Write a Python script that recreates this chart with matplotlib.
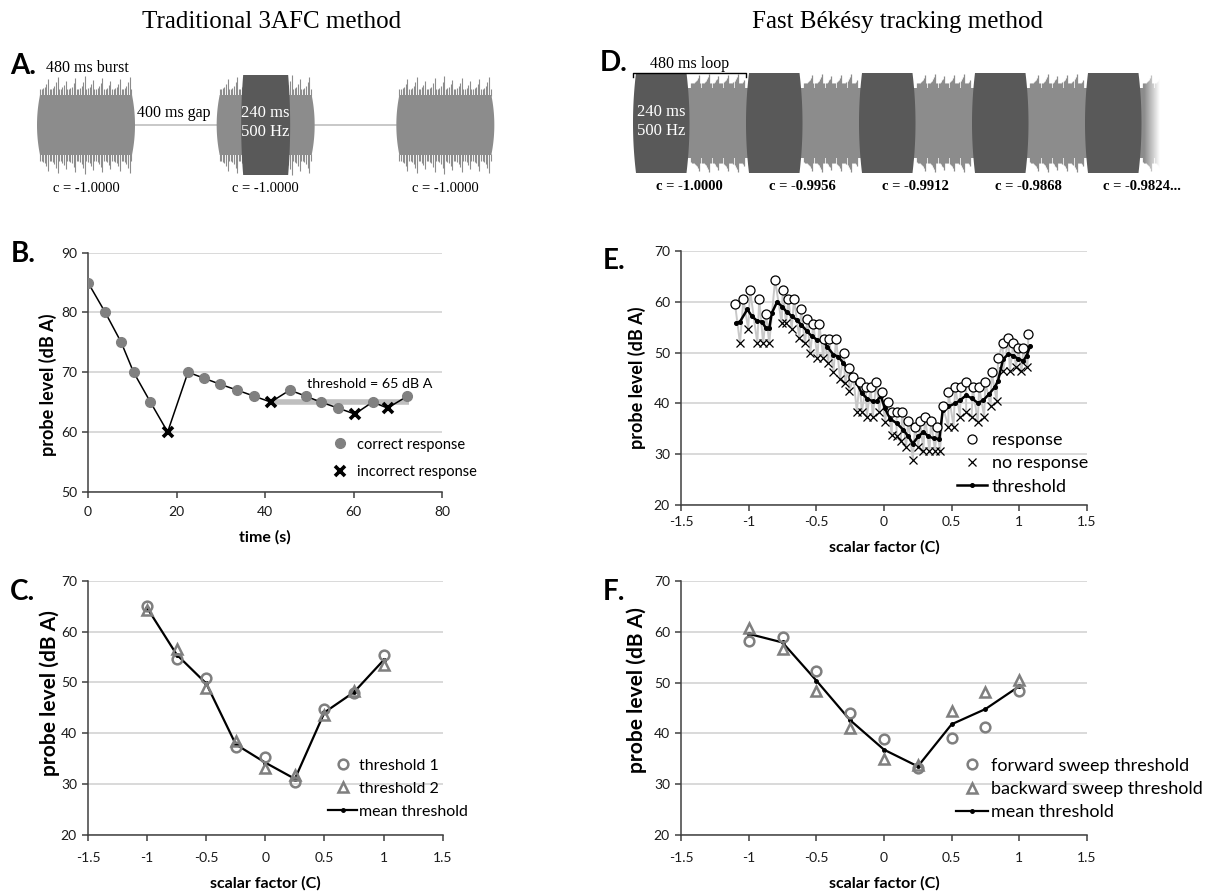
import numpy as np
import matplotlib
matplotlib.use('Agg')
import matplotlib.pyplot as plt
from matplotlib.patches import Polygon, Rectangle
from matplotlib.lines import Line2D

plt.rcParams['font.family'] = ['Lato', 'DejaVu Sans']
plt.rcParams['axes.unicode_minus'] = False

# ---------------- data ----------------
# B: 3AFC staircase
time_b = [0, 3.9, 7.5, 10.3, 14.1, 18.0, 22.6, 26.2, 29.8, 33.7, 37.5, 41.3,
          45.6, 49.2, 52.6, 56.5, 60.3, 64.3, 67.7, 72.2]
level_b = [85, 80, 75, 70, 65, 60, 70, 69, 68, 67, 66, 65, 67, 66, 65, 64, 63, 65, 64, 66]
correct_b = [1, 1, 1, 1, 1, 0, 1, 1, 1, 1, 1, 0, 1, 1, 1, 1, 0, 1, 0, 1]
threshold_b = 65
threshold_span_b = [42, 72.5]

# C: 3AFC thresholds vs scalar factor
scalar = [-1, -0.75, -0.5, -0.25, 0, 0.25, 0.5, 0.75, 1]
thr1_c = [65.1, 54.6, 50.8, 37.2, 35.3, 30.3, 44.7, 47.9, 55.4]
thr2_c = [64.3, 56.5, 48.9, 38.5, 33.2, 31.7, 43.5, 48.3, 53.5]
mean_c = [64.7, 55.5, 49.8, 37.8, 34.2, 31.0, 44.1, 48.1, 54.4]

# E: Bekesy tracking
resp_x = [-1.101, -1.039, -0.990, -0.922, -0.872, -0.805, -0.748, -0.706, -0.665, -0.613,
          -0.566, -0.522, -0.478, -0.441, -0.406, -0.354, -0.297, -0.261, -0.226, -0.180,
          -0.135, -0.099, -0.056, -0.017, 0.027, 0.061, 0.093, 0.135, 0.179, 0.229,
          0.267, 0.303, 0.348, 0.390, 0.434, 0.476, 0.526, 0.567, 0.607, 0.655,
          0.703, 0.749, 0.796, 0.843, 0.877, 0.919, 0.956, 0.993, 1.030, 1.067]
resp_y = [59.6, 60.5, 62.4, 60.5, 57.6, 64.3, 62.4, 60.5, 60.5, 58.5,
          56.6, 55.6, 55.6, 52.7, 52.7, 52.7, 49.9, 47.0, 45.1, 44.2,
          43.2, 43.2, 44.2, 42.2, 40.3, 38.4, 38.4, 38.4, 36.5, 35.4,
          36.5, 37.4, 36.5, 35.4, 39.4, 42.2, 43.2, 43.2, 44.2, 43.2,
          43.2, 44.2, 46.1, 48.9, 51.8, 52.8, 51.8, 50.9, 50.9, 53.7]
noresp_x = [-1.064, -1.003, -0.936, -0.893, -0.848, -0.756, -0.724, -0.682, -0.625, -0.584,
            -0.545, -0.492, -0.448, -0.411, -0.374, -0.325, -0.287, -0.256, -0.201, -0.164,
            -0.127, -0.083, -0.035, 0.008, 0.057, 0.093, 0.124, 0.163, 0.213, 0.254,
            0.291, 0.336, 0.377, 0.414, 0.476, 0.514, 0.562, 0.607, 0.648, 0.693,
            0.740, 0.788, 0.833, 0.880, 0.930, 0.975, 1.016, 1.060]
noresp_y = [51.8, 54.6, 51.8, 51.8, 51.8, 55.8, 55.8, 54.6, 52.8, 51.8,
            49.9, 48.9, 48.9, 47.9, 46.1, 44.9, 44.0, 42.5, 38.4, 38.4,
            37.4, 37.4, 38.4, 36.4, 33.8, 33.5, 32.5, 31.5, 28.9, 31.5,
            30.6, 30.6, 30.6, 30.6, 35.4, 35.4, 37.4, 38.4, 37.4, 36.4,
            37.4, 39.4, 40.4, 46.3, 46.3, 47.1, 46.3, 47.1]
thr_x = [-1.093, -1.064, -1.010, -0.977, -0.936, -0.903, -0.872, -0.848, -0.830, -0.790,
         -0.751, -0.719, -0.682, -0.644, -0.613, -0.571, -0.534, -0.492, -0.448, -0.418,
         -0.374, -0.337, -0.300, -0.271, -0.239, -0.202, -0.164, -0.122, -0.083, -0.054,
         -0.024, 0.007, 0.045, 0.093, 0.143, 0.179, 0.213, 0.254, 0.291, 0.328,
         0.370, 0.409, 0.434, 0.476, 0.526, 0.562, 0.607, 0.648, 0.693, 0.733,
         0.778, 0.819, 0.843, 0.880, 0.919, 0.956, 0.993, 1.030, 1.054, 1.080]
thr_y = [55.8, 56.1, 58.5, 57.2, 56.2, 56.1, 54.8, 54.8, 57.7, 60.0,
         59.0, 58.0, 57.2, 56.4, 55.5, 54.3, 53.2, 52.5, 52.3, 51.1,
         49.6, 49.2, 47.9, 46.9, 45.6, 44.0, 42.0, 40.9, 40.4, 40.4,
         41.5, 39.0, 37.0, 36.1, 34.8, 33.5, 32.1, 33.5, 34.4, 33.5,
         33.1, 33.0, 38.7, 39.4, 40.0, 40.6, 41.6, 41.0, 40.1, 40.6,
         41.9, 43.2, 44.5, 48.7, 49.7, 49.4, 48.7, 48.4, 49.4, 51.3]

# F: Bekesy thresholds vs scalar factor
fwd_f = [58.2, 59.0, 52.3, 44.0, 38.8, 33.2, 39.0, 41.3, 48.4]
bwd_f = [60.8, 56.6, 48.4, 41.1, 34.9, 33.7, 44.4, 48.1, 50.5]
mean_f = [59.6, 57.9, 50.4, 42.6, 36.8, 33.5, 41.8, 44.8, 49.3]

scalar_ticks = [-1.5, -1, -0.5, 0, 0.5, 1, 1.5]
scalar_labels = ['-1.5', '-1', '-0.5', '0', '0.5', '1', '1.5']

# schematic timing (ms)
burst_ms = 480
gap_ms = 400
probe_ms = 240
a_bursts = [0, 880, 1760]
d_loops = [0, 480, 960, 1440, 1920]
a_labels = ['c = -1.0000', 'c = -1.0000', 'c = -1.0000']
d_labels = ['c = -1.0000', 'c = -0.9956', 'c = -0.9912', 'c = -0.9868', 'c = -0.9824...']

# ---------------- figure ----------------
W, H = 1214, 896
fig = plt.figure(figsize=(W / 100, H / 100), dpi=100)

def px_axes(l, t, r, b):
    return fig.add_axes([l / W, 1 - b / H, (r - l) / W, (b - t) / H])

AXC = '#404040'
LIGHT = '#8c8c8c'
DARK = '#595959'

def style(ax, ylim, yticks, ylab_size, xpad):
    ax.set_ylim(ylim)
    ax.set_yticks(yticks)
    for s in ['top', 'right']:
        ax.spines[s].set_visible(False)
    for s in ['left', 'bottom']:
        ax.spines[s].set_color(AXC)
        ax.spines[s].set_linewidth(1.1)
    ax.yaxis.grid(True, color='#d9d9d9', lw=1.4)
    ax.set_axisbelow(True)
    ax.tick_params(direction='out', length=4, width=1.1, color=AXC,
                   labelsize=10, labelcolor='#1a1a1a', pad=4)
    ax.tick_params(axis='x', pad=xpad)
    ax.set_ylabel('probe level (dB A)', fontsize=ylab_size, fontweight='bold', va='center')

# overlay for schematic + labels
ax0 = fig.add_axes([0, 0, 1, 1])
ax0.set_xlim(0, W)
ax0.set_ylim(H, 0)
ax0.axis('off')

def barrel(x0, x1, y0, y1, bulge, color, z=2):
    ys = np.linspace(y0, y1, 40)
    yc = (y0 + y1) / 2
    b = bulge * (1 - ((ys - yc) / ((y1 - y0) / 2)) ** 2)
    left = x0 + bulge - b
    right = x1 - bulge + b
    pts = np.r_[np.c_[left, ys], np.c_[right[::-1], ys[::-1]]]
    ax0.add_patch(Polygon(pts, closed=True, fc=color, ec='none', zorder=z))

def teeth(x0, x1, core_top, core_bot, ytop, ybot, period, color, step=1.1, lw=0.9):
    xs = np.arange(x0, x1, step)
    ph = ((xs - x0) % period) / period
    h = 0.3 + 0.7 * ph ** 3
    ax0.vlines(xs, core_top - h * (core_top - ytop), core_top + 1, color=color, lw=lw, zorder=2)
    ax0.vlines(xs, core_bot - 1, core_bot + h * (ybot - core_bot), color=color, lw=lw, zorder=2)

# Panel A schematic
a_x0, a_scale = 37, 98 / 480
for i, t0 in enumerate(a_bursts):
    x0 = a_x0 + t0 * a_scale
    x1 = x0 + burst_ms * a_scale
    barrel(x0, x1, 95, 155, 3, LIGHT)
    teeth(x0 + 3, x1 - 3, 95, 155, 75, 175, 9, LIGHT, step=1.6, lw=0.8)
    if i < len(a_bursts) - 1:
        ax0.plot([x1, a_x0 + a_bursts[i + 1] * a_scale], [125, 125], color='#bfbfbf', lw=1.2, zorder=1)
    ax0.text((x0 + x1) / 2, 188, a_labels[i], ha='center', va='center',
             family='Liberation Serif', fontsize=10.5)
    if i == 1:
        p0 = x0 + (burst_ms - probe_ms) / 2 * a_scale
        p1 = p0 + probe_ms * a_scale
        barrel(p0, p1, 75, 175, 2, DARK, z=3)
        ax0.text((p0 + p1) / 2, 113, '240 ms', ha='center', va='center', color='white',
                 family='Liberation Serif', fontsize=12, zorder=4)
        ax0.text((p0 + p1) / 2, 132, '500 Hz', ha='center', va='center', color='white',
                 family='Liberation Serif', fontsize=12, zorder=4)
ax0.text(87, 68, '480 ms burst', ha='center', va='center', family='Liberation Serif', fontsize=11.5)
ax0.text(174, 113, '400 ms gap', ha='center', va='center', family='Liberation Serif', fontsize=11.5)

# Panel D schematic
d_x0, d_scale = 633, 113 / 480
for i, t0 in enumerate(d_loops):
    x0 = d_x0 + t0 * d_scale
    xm = x0 + probe_ms * d_scale
    x1 = x0 + burst_ms * d_scale
    if i == len(d_loops) - 1:
        x1 = xm + 20
    barrel(xm - 4, x1 + 4, 88, 158, -3, LIGHT, z=1)
    teeth(xm + 1, x1 - 1, 88, 158, 73, 173, 9.5, LIGHT)
    barrel(x0, xm, 73, 173, 3, DARK, z=3)
    ax0.text(x0 + burst_ms * d_scale / 2, 187, d_labels[i], ha='center', va='center',
             family='Liberation Serif', fontsize=10.5, fontweight='bold')
# fade out at the end of the strip
fade = np.ones((1, 64, 4))
fade[0, :, 3] = np.linspace(0, 1, 64)
end_x = d_x0 + d_loops[-1] * d_scale + probe_ms * d_scale
ax0.imshow(fade, extent=[end_x + 2, end_x + 18, 176, 70], aspect='auto', zorder=5)
ax0.add_patch(Rectangle((end_x + 18, 70), 40, 106, fc='white', ec='none', zorder=5))
ax0.set_xlim(0, W)
ax0.set_ylim(H, 0)
ax0.text(d_x0 + 28, 112, '240 ms', ha='center', va='center', color='white',
         family='Liberation Serif', fontsize=12, zorder=6)
ax0.text(d_x0 + 28, 131, '500 Hz', ha='center', va='center', color='white',
         family='Liberation Serif', fontsize=12, zorder=6)
ax0.plot([d_x0, d_x0, d_x0 + burst_ms * d_scale, d_x0 + burst_ms * d_scale],
         [77, 73, 73, 77], color='black', lw=1, zorder=6)
ax0.text(d_x0 + burst_ms * d_scale / 2, 64, '480 ms loop', ha='center', va='center',
         family='Liberation Serif', fontsize=11.5)

# titles and panel letters
ax0.text(272, 22, 'Traditional 3AFC method', ha='center', va='center',
         family='Liberation Serif', fontsize=18)
ax0.text(897, 22, 'Fast Békésy tracking method', ha='center', va='center',
         family='Liberation Serif', fontsize=18)
for lab, x, y in [('A.', 10, 66), ('B.', 11, 254), ('C.', 10, 592),
                  ('D.', 600, 63), ('E.', 603, 261), ('F.', 603, 592)]:
    ax0.text(x, y, lab, ha='left', va='center', fontsize=20, fontweight='bold')

# ---------------- Panel B ----------------
axB = px_axes(88, 252.7, 442, 491.7)
style(axB, (50, 90), [50, 60, 70, 80, 90], 13, 6.5)
axB.set_xlim(0, 80)
axB.set_xticks([0, 20, 40, 60, 80])
axB.set_xlabel('time (s)', fontsize=11.5, fontweight='bold', va='center')
axB.plot(threshold_span_b, [threshold_b, threshold_b], color='#bfbfbf', lw=4, zorder=1,
         solid_capstyle='butt')
axB.plot(time_b, level_b, color='black', lw=1.1, zorder=2)
tb = np.array(time_b)
lb = np.array(level_b)
cb = np.array(correct_b, dtype=bool)
axB.plot(tb[cb], lb[cb], 'o', color='#808080', ms=7, zorder=3)
axB.plot(tb[~cb], lb[~cb], 'x', color='black', ms=7, mew=2.6, zorder=3)
axB.text(49.4, 68.1, 'threshold = %d dB A' % threshold_b, ha='left', va='center', fontsize=10.3)
hB = [Line2D([], [], ls='none', marker='o', color='#808080', ms=7),
      Line2D([], [], ls='none', marker='x', color='black', ms=7, mew=2.6)]
axB.legend(hB, ['correct response', 'incorrect response'], loc='center left',
           bbox_to_anchor=(0.69, 0.139), frameon=False, fontsize=10.5, handlelength=1.0,
           handletextpad=0.7, labelspacing=0.95, borderpad=0, borderaxespad=0)
axB.yaxis.set_label_coords(-0.113, 0.446)
axB.xaxis.set_label_coords(0.5, -0.192)

# ---------------- Panel C ----------------
axC = px_axes(88, 581, 442.7, 834.7)
style(axC, (20, 70), [20, 30, 40, 50, 60, 70], 15, 8.5)
axC.set_xlim(-1.5, 1.5)
axC.set_xticks(scalar_ticks)
axC.set_xticklabels(scalar_labels)
axC.set_xlabel('scalar factor (C)', fontsize=11.5, fontweight='bold', va='center')
axC.plot(scalar, mean_c, color='black', lw=1.6, marker='o', ms=2.5, zorder=2)
axC.plot(scalar, thr1_c, 'o', mfc='none', mec='#7f7f7f', mew=1.8, ms=7, zorder=3)
axC.plot(scalar, thr2_c, '^', mfc='none', mec='#7f7f7f', mew=1.8, ms=7, zorder=3)
hC = [Line2D([], [], ls='none', marker='o', mfc='none', mec='#7f7f7f', mew=1.8, ms=7),
      Line2D([], [], ls='none', marker='^', mfc='none', mec='#7f7f7f', mew=1.8, ms=7),
      Line2D([], [], color='black', lw=1.6, marker='o', ms=2.5)]
axC.legend(hC, ['threshold 1', 'threshold 2', 'mean threshold'], loc='center left',
           bbox_to_anchor=(0.677, 0.181), frameon=False, fontsize=11.5, handlelength=1.8,
           handletextpad=0.15, labelspacing=0.55, borderpad=0, borderaxespad=0)
axC.yaxis.set_label_coords(-0.107, 0.558)
axC.xaxis.set_label_coords(0.5, -0.19)

# ---------------- Panel E ----------------
axE = px_axes(681, 251, 1087, 505)
style(axE, (20, 70), [20, 30, 40, 50, 60, 70], 13, 4)
axE.set_xlim(-1.5, 1.5)
axE.set_xticks(scalar_ticks)
axE.set_xticklabels(scalar_labels)
axE.set_xlabel('scalar factor (C)', fontsize=11.5, fontweight='bold', va='center')
ev_x = np.r_[resp_x, noresp_x]
ev_y = np.r_[resp_y, noresp_y]
order = np.argsort(ev_x)
axE.plot(ev_x[order], ev_y[order], color='#c8c8c8', lw=1.4, zorder=1)
axE.plot(thr_x, thr_y, color='black', lw=1.8, marker='o', ms=2.6, zorder=3)
axE.plot(noresp_x, noresp_y, 'x', color='black', ms=5.5, mew=0.9, zorder=4)
axE.plot(resp_x, resp_y, 'o', mfc='white', mec='black', mew=0.9, ms=6.5, zorder=5)
hE = [Line2D([], [], ls='none', marker='o', mfc='white', mec='black', mew=0.9, ms=6.5),
      Line2D([], [], ls='none', marker='x', color='black', ms=5.5, mew=0.9),
      Line2D([], [], color='black', lw=1.8, marker='o', ms=2.6)]
axE.legend(hE, ['response', 'no response', 'threshold'], loc='center left',
           bbox_to_anchor=(0.68, 0.164), frameon=False, fontsize=13, handlelength=1.65,
           handletextpad=0.27, labelspacing=0.4, borderpad=0, borderaxespad=0)
axE.yaxis.set_label_coords(-0.108, 0.5)
axE.xaxis.set_label_coords(0.5, -0.165)

# ---------------- Panel F ----------------
axF = px_axes(681, 581, 1087, 835)
style(axF, (20, 70), [20, 30, 40, 50, 60, 70], 15, 8.5)
axF.set_xlim(-1.5, 1.5)
axF.set_xticks(scalar_ticks)
axF.set_xticklabels(scalar_labels)
axF.set_xlabel('scalar factor (C)', fontsize=11.5, fontweight='bold', va='center')
axF.plot(scalar, mean_f, color='black', lw=1.6, marker='o', ms=2.5, zorder=2)
axF.plot(scalar, fwd_f, 'o', mfc='none', mec='#7f7f7f', mew=1.8, ms=7, zorder=3)
axF.plot(scalar, bwd_f, '^', mfc='none', mec='#7f7f7f', mew=1.8, ms=7, zorder=3)
hF = [Line2D([], [], ls='none', marker='o', mfc='none', mec='#7f7f7f', mew=1.8, ms=7),
      Line2D([], [], ls='none', marker='^', mfc='none', mec='#7f7f7f', mew=1.8, ms=7),
      Line2D([], [], color='black', lw=1.6, marker='o', ms=2.5)]
axF.legend(hF, ['forward sweep threshold', 'backward sweep threshold', 'mean threshold'],
           loc='center left', bbox_to_anchor=(0.677, 0.181), frameon=False, fontsize=13,
           handlelength=1.8, handletextpad=0.15, labelspacing=0.4, borderpad=0, borderaxespad=0)
axF.yaxis.set_label_coords(-0.108, 0.571)
axF.xaxis.set_label_coords(0.5, -0.19)

fig.savefig('out.png', dpi=100)
